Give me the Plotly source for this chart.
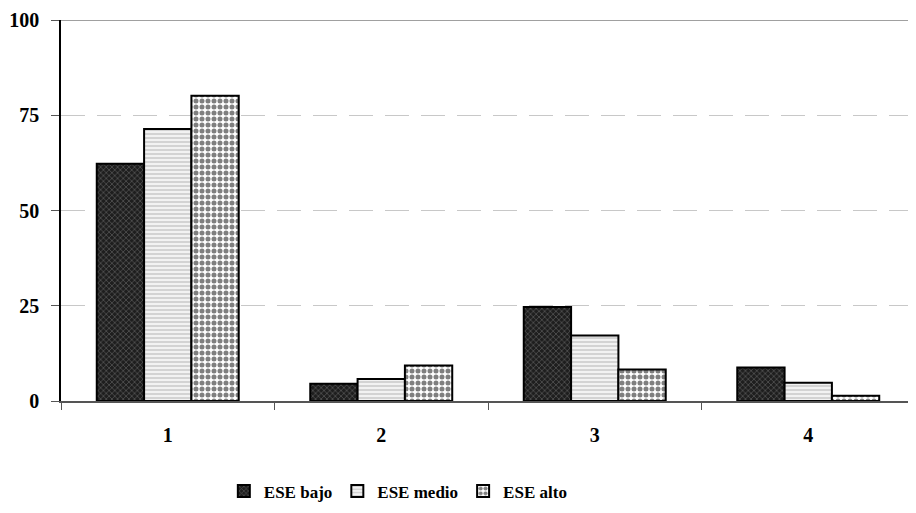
import plotly.graph_objects as go

categories = ["1", "2", "3", "4"]
series_names = ["ESE bajo", "ESE medio", "ESE alto"]
ese_bajo = [62.3, 4.5, 24.7, 8.8]
ese_medio = [71.4, 5.8, 17.2, 4.8]
ese_alto = [80.1, 9.3, 8.3, 1.4]
y_ticks = [0, 25, 50, 75, 100]

FONT = "Liberation Serif"

styles = [
    dict(color="#333333", pattern=dict(shape="x", fgcolor="#8a8a8a", bgcolor="#1e1e1e", size=4, solidity=0.35)),
    dict(color="#f4f4f4", pattern=dict(shape="-", fgcolor="#8a8a8a", bgcolor="#f2f2f2", size=4, solidity=0.3)),
    dict(color="#ffffff", pattern=dict(shape=".", fgcolor="#000000", bgcolor="#ffffff", size=6, solidity=0.55)),
]

fig = go.Figure()
for name, vals, st in zip(series_names, [ese_bajo, ese_medio, ese_alto], styles):
    fig.add_trace(go.Bar(
        x=categories, y=vals, name=name,
        marker=dict(color=st["color"], pattern=st["pattern"],
                    line=dict(color="#000000", width=2)),
    ))

fig.update_layout(
    width=908, height=505,
    margin=dict(l=52, r=1, t=7, b=112),
    paper_bgcolor="white", plot_bgcolor="white",
    barmode="group", bargap=0.335, bargroupgap=0,
    font=dict(family=FONT, size=16, color="#000000"),
    showlegend=True,
    legend=dict(orientation="h", x=0.395, xanchor="center", y=-0.19, yanchor="top",
                font=dict(family=FONT, size=17, color="#000000", weight="bold"),
                itemwidth=30, tracegroupgap=0),
    xaxis=dict(type="category", showgrid=False, showline=True, linecolor="#555555", linewidth=1.5,
               ticks="outside", tickson="boundaries", ticklen=7, tickcolor="#555555",
               ticklabelstandoff=15,
               tickfont=dict(family=FONT, size=20, weight="bold"), zeroline=False),
    yaxis=dict(range=[0, 100], tickvals=y_ticks, showline=True, linecolor="#000000", linewidth=1.5,
               ticks="outside", ticklen=8, tickcolor="#555555", ticklabelstandoff=8,
               ticklabeloverflow="allow",
               showgrid=True, gridcolor="#c8c8c8", griddash="24px,12px", gridwidth=1,
               tickfont=dict(family=FONT, size=20, weight="bold"), zeroline=False),
    shapes=[dict(type="line", xref="paper", yref="y", x0=0, x1=1, y0=100, y1=100,
                 line=dict(color="#808080", width=1.5), layer="above")],
)

fig.write_html("out.html")
